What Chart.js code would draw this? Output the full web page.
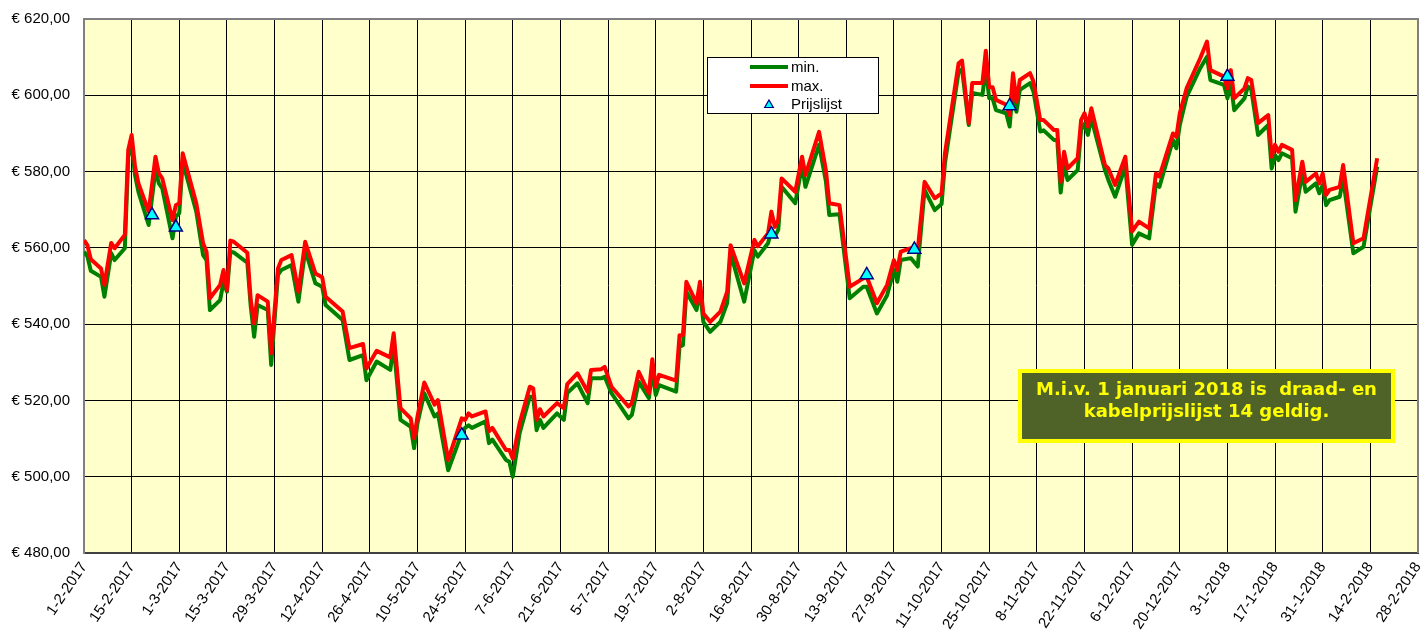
<!DOCTYPE html>
<html><head><meta charset="utf-8">
<script src="https://cdn.jsdelivr.net/npm/chart.js@4"></script>
<style>html,body{margin:0;padding:0;background:#fff}#wrap{width:1421px;height:632px;position:relative}</style>
</head><body><div id="wrap"><canvas id="c" width="1421" height="632"></canvas></div>
<script>
const dates = ['1-2-2017','2-2-2017','3-2-2017','6-2-2017','7-2-2017','9-2-2017','10-2-2017','13-2-2017','14-2-2017','15-2-2017','16-2-2017','17-2-2017','20-2-2017','22-2-2017','23-2-2017','24-2-2017','27-2-2017','28-2-2017',
'1-3-2017','2-3-2017','6-3-2017','8-3-2017','9-3-2017','10-3-2017','13-3-2017','14-3-2017','15-3-2017','16-3-2017','17-3-2017','21-3-2017','22-3-2017','23-3-2017','24-3-2017','27-3-2017','28-3-2017','30-3-2017','31-3-2017',
'3-4-2017','5-4-2017','7-4-2017','10-4-2017','12-4-2017','13-4-2017','18-4-2017','20-4-2017','24-4-2017','25-4-2017','28-4-2017',
'2-5-2017','3-5-2017','5-5-2017','8-5-2017','9-5-2017','10-5-2017','12-5-2017','15-5-2017','16-5-2017','19-5-2017','23-5-2017','24-5-2017','25-5-2017','26-5-2017','30-5-2017','31-5-2017',
'1-6-2017','5-6-2017','6-6-2017','7-6-2017','9-6-2017','12-6-2017','13-6-2017','14-6-2017','15-6-2017','16-6-2017','20-6-2017','22-6-2017','23-6-2017','26-6-2017','29-6-2017','30-6-2017',
'3-7-2017','4-7-2017','6-7-2017','11-7-2017','12-7-2017','14-7-2017','17-7-2017','18-7-2017','19-7-2017','20-7-2017','25-7-2017','26-7-2017','27-7-2017','28-7-2017','31-7-2017',
'1-8-2017','2-8-2017','4-8-2017','7-8-2017','9-8-2017','10-8-2017','14-8-2017','17-8-2017','18-8-2017','21-8-2017','22-8-2017','23-8-2017','24-8-2017','25-8-2017','29-8-2017','31-8-2017',
'1-9-2017','5-9-2017','7-9-2017','8-9-2017','11-9-2017','14-9-2017','18-9-2017','19-9-2017','22-9-2017','25-9-2017','27-9-2017','28-9-2017','29-9-2017',
'2-10-2017','4-10-2017','6-10-2017','9-10-2017','11-10-2017','12-10-2017','16-10-2017','17-10-2017','19-10-2017','20-10-2017','23-10-2017','24-10-2017','25-10-2017','26-10-2017','27-10-2017','30-10-2017','31-10-2017',
'1-11-2017','2-11-2017','3-11-2017','6-11-2017','7-11-2017','9-11-2017','10-11-2017','13-11-2017','14-11-2017','15-11-2017','16-11-2017','17-11-2017','20-11-2017','21-11-2017','22-11-2017','23-11-2017','24-11-2017','28-11-2017','29-11-2017',
'1-12-2017','4-12-2017','6-12-2017','8-12-2017','11-12-2017','13-12-2017','14-12-2017','18-12-2017','19-12-2017','20-12-2017','22-12-2017','26-12-2017','28-12-2017','29-12-2017',
'2-1-2018','3-1-2018','4-1-2018','5-1-2018','8-1-2018','9-1-2018','10-1-2018','12-1-2018','15-1-2018','16-1-2018','17-1-2018','18-1-2018','19-1-2018','22-1-2018','23-1-2018','25-1-2018','26-1-2018','29-1-2018','30-1-2018','31-1-2018',
'1-2-2018','2-2-2018','5-2-2018','6-2-2018','9-2-2018','12-2-2018','16-2-2018'];

const maxVals = [562.0,560.7,557.0,554.6,550.3,561.3,559.9,563.4,585.7,589.6,581.3,576.9,569.5,583.9,579.5,578.2,567.3,571.2,
571.7,584.8,571.7,561.2,559.0,546.8,550.3,554.2,548.9,561.9,561.6,558.7,546.3,540.2,547.6,545.9,532.4,554.6,556.8,
558.1,548.5,561.6,553.3,552.3,547.2,543.3,533.7,534.8,528.4,533.0,
531.3,537.6,518.0,515.3,510.1,515.8,524.7,518.9,520.1,504.4,515.3,514.9,516.6,515.8,517.1,511.9,
512.8,507.0,507.0,504.8,514.0,523.6,523.2,514.9,517.7,515.8,519.3,518.0,524.3,527.1,522.3,528.0,
528.2,528.8,523.6,518.4,519.3,527.5,521.9,530.8,523.6,526.7,525.2,537.1,537.1,551.1,545.5,
551.1,542.8,540.6,543.3,548.5,560.7,550.7,562.1,560.4,563.8,569.5,565.5,567.3,578.2,574.7,583.9,
579.1,590.4,580.4,571.7,571.2,549.8,552.0,552.4,545.5,550.3,556.8,554.2,559.0,
559.9,559.4,577.3,573.0,574.3,584.8,608.4,609.1,592.7,603.2,603.2,611.7,602.1,602.1,598.8,597.5,594.8,
605.8,598.3,604.0,605.8,603.6,593.5,593.5,590.9,590.9,577.3,585.2,580.8,583.5,593.5,595.3,591.8,596.6,581.7,580.8,
576.5,583.9,564.3,566.9,565.1,579.5,578.7,590.0,589.1,595.3,601.8,609.7,614.1,606.6,
604.9,601.8,606.6,599.2,601.8,604.5,604.0,592.7,594.8,583.9,587.0,585.2,587.0,585.7,572.5,582.6,577.3,579.5,576.9,579.5,
573.9,575.2,576.0,581.7,561.2,562.5,583.5];

const minVals = [559.0,557.8,554.0,552.4,547.2,558.6,556.8,559.9,583.9,587.0,579.1,574.7,566.0,580.4,576.9,575.6,562.5,568.2,
569.1,582.6,569.5,558.1,556.8,543.7,546.3,551.1,548.5,559.0,558.8,556.1,544.6,536.7,545.0,543.7,529.3,552.9,554.2,
555.5,545.9,559.4,550.7,549.8,545.0,541.1,530.6,531.9,525.3,530.2,
528.0,534.5,514.9,513.1,507.5,514.0,521.9,515.8,516.6,501.7,511.4,512.8,513.5,512.8,514.5,508.8,
509.7,504.4,503.9,500.0,511.4,521.0,520.9,512.2,514.9,512.8,516.6,514.9,521.9,524.5,519.3,525.8,
525.8,526.2,521.9,515.3,516.2,524.9,520.6,528.0,521.4,524.0,522.3,534.1,534.5,548.5,543.7,
549.0,540.6,538.0,540.6,545.5,558.6,545.9,559.4,557.7,561.2,564.5,563.0,564.7,576.0,571.7,581.7,
576.0,587.0,577.5,568.6,568.8,546.8,549.8,549.8,542.8,547.6,554.2,551.1,556.8,
557.3,555.1,575.2,569.9,571.5,582.2,606.2,606.8,592.2,600.6,600.1,607.0,599.2,599.2,596.1,595.3,591.8,
602.3,595.7,601.4,603.2,601.0,590.5,590.8,588.3,588.3,574.5,582.2,577.8,580.4,590.9,592.5,589.6,594.0,580.4,577.8,
573.4,581.3,560.8,563.8,562.5,576.9,576.0,588.3,586.1,592.2,599.6,607.1,610.1,604.0,
602.7,599.2,603.2,596.1,599.2,602.3,601.5,589.6,592.2,580.8,584.3,583.0,584.8,583.5,569.5,579.5,574.7,576.9,574.3,576.5,
571.2,572.5,573.4,578.2,558.6,560.3,581.3];

const prijsDates = ['21-2-2017','28-2-2017','23-5-2017','22-8-2017','19-9-2017','3-10-2017','31-10-2017','3-1-2018'];
const prijsVals = [568.6,565.4,510.9,563.6,552.9,559.6,597.2,604.9];

const xTickLabels = ['1-2-2017','15-2-2017','1-3-2017','15-3-2017','29-3-2017','12-4-2017','26-4-2017','10-5-2017','24-5-2017','7-6-2017','21-6-2017','5-7-2017','19-7-2017','2-8-2017','16-8-2017','30-8-2017','13-9-2017','27-9-2017','11-10-2017','25-10-2017','8-11-2017','22-11-2017','6-12-2017','20-12-2017','3-1-2018','17-1-2018','31-1-2018','14-2-2018','28-2-2018'];

const seriesNames = ['min.','max.','Prijslijst'];
const noteLines = ['M.i.v. 1 januari 2018 is  draad- en','kabelprijslijst 14 geldig.'];

function dayOf(s){const [d,m,y]=s.split('-').map(Number);return Math.round((Date.UTC(y,m-1,d)-Date.UTC(2017,1,1))/864e5);}
const toPts=(ds,vs)=>ds.map((d,i)=>({x:dayOf(d),y:vs[i]}));

const GREEN='#008000', RED='#FF0000', CYAN='#00FFFF', NAVY='#000080';
const RIGHT_GAP=3;

function tri(ctx,x,y,r){
  ctx.beginPath();
  for(let k=0;k<3;k++){const a=k*2*Math.PI/3;ctx.lineTo(x+Math.sin(a)*r,y-Math.cos(a)*r);}
  ctx.closePath();
}

const overlay = {
  id:'overlay',
  afterLayout(chart){
    const a=chart.chartArea, x=chart.scales.x, target=chart.width-RIGHT_GAP;
    if(a.right!==target){
      a.right=target; a.width=a.right-a.left;
      x.right=target; x.width=x.right-x.left;
      x.configure();
    }
  },
  beforeDraw(chart){
    const a=chart.chartArea,ctx=chart.ctx;
    ctx.save();ctx.fillStyle='#FFFFCC';ctx.fillRect(a.left,a.top,a.right-a.left,a.bottom-a.top);ctx.restore();
  },
  afterDraw(chart){
    const a=chart.chartArea,ctx=chart.ctx;
    ctx.save();
    ctx.strokeStyle='#808080';ctx.lineWidth=2;
    ctx.beginPath();ctx.moveTo(a.left,a.top);ctx.lineTo(a.right,a.top);ctx.lineTo(a.right,a.bottom);ctx.stroke();
    // legend
    const lx=a.left+623, ly=a.top+38;
    ctx.fillStyle='#fff';ctx.fillRect(lx,ly,171,56);
    ctx.strokeStyle='#000';ctx.lineWidth=1;ctx.strokeRect(lx+0.5,ly+0.5,171,56);
    ctx.font='15px "Liberation Sans", Arial, sans-serif';ctx.textBaseline='middle';ctx.textAlign='left';
    const rows=[10,29,47];
    ctx.lineWidth=4;
    ctx.strokeStyle=GREEN;ctx.beginPath();ctx.moveTo(lx+43,ly+rows[0]);ctx.lineTo(lx+81,ly+rows[0]);ctx.stroke();
    ctx.strokeStyle=RED;ctx.beginPath();ctx.moveTo(lx+43,ly+rows[1]);ctx.lineTo(lx+81,ly+rows[1]);ctx.stroke();
    tri(ctx,lx+62,ly+rows[2]+1,5);ctx.fillStyle=CYAN;ctx.fill();ctx.lineWidth=1.2;ctx.strokeStyle=NAVY;ctx.stroke();
    ctx.fillStyle='#000';
    seriesNames.forEach((n,i)=>ctx.fillText(n,lx+84,ly+rows[i]+1));
    // note box
    const bx=a.left+934, by=a.top+350, bw=377, bh=74;
    ctx.fillStyle='#4F6228';ctx.fillRect(bx,by,bw,bh);
    ctx.strokeStyle='#FFFF00';ctx.lineWidth=4;ctx.strokeRect(bx+2,by+2,bw-4,bh-4);
    ctx.fillStyle='#FFFF00';ctx.font='bold 18px "DejaVu Sans", Verdana, sans-serif';ctx.textAlign='center';ctx.textBaseline='alphabetic';
    ctx.fillText(noteLines[0],bx+bw/2,by+26);
    ctx.fillText(noteLines[1],bx+bw/2,by+48);
    ctx.restore();
  }
};

const xMin=dayOf(xTickLabels[0]), xMax=dayOf(xTickLabels[xTickLabels.length-1]);
const FONT={family:'"Liberation Sans", Arial, sans-serif',size:15};

new Chart(document.getElementById('c'),{
  type:'line',
  data:{datasets:[
    {label:seriesNames[0],data:toPts(dates,minVals),borderColor:GREEN,borderWidth:4,pointRadius:0,tension:0,borderJoinStyle:'round',order:3},
    {label:seriesNames[1],data:toPts(dates,maxVals),borderColor:RED,borderWidth:4,pointRadius:0,tension:0,borderJoinStyle:'round',order:2},
    {label:seriesNames[2],data:toPts(prijsDates,prijsVals),showLine:false,pointStyle:'triangle',pointRadius:7.5,pointBackgroundColor:CYAN,pointBorderColor:NAVY,pointBorderWidth:1.5,order:1}
  ]},
  options:{
    responsive:false,animation:false,devicePixelRatio:1,
    layout:{padding:{top:19,right:RIGHT_GAP,left:0,bottom:0}},
    plugins:{legend:{display:false},tooltip:{enabled:false}},
    events:[],
    scales:{
      x:{type:'linear',min:xMin,max:xMax,
        afterBuildTicks(s){s.ticks=xTickLabels.map(l=>({value:dayOf(l)}));},
        afterFit(s){s.height=79;s.paddingRight=0;},
        ticks:{autoSkip:false,maxRotation:56,minRotation:56,padding:6,color:'#000',font:FONT,
          callback:(v)=>{const i=xTickLabels.findIndex(l=>dayOf(l)===v);return i>=0?xTickLabels[i]:'';}},
        grid:{color:'#000',lineWidth:1,drawTicks:false},
        border:{color:'#404040',width:2}
      },
      y:{min:480,max:620,
        afterFit(s){s.width=84;s.paddingTop=0;s.paddingBottom=0;},
        ticks:{stepSize:20,padding:14,color:'#000',font:FONT,callback:v=>'€ '+v.toFixed(2).replace('.',',')},
        grid:{color:'#000',lineWidth:1,drawTicks:false},
        border:{color:'#808080',width:2}
      }
    }
  },
  plugins:[overlay]
});
</script></body></html>
